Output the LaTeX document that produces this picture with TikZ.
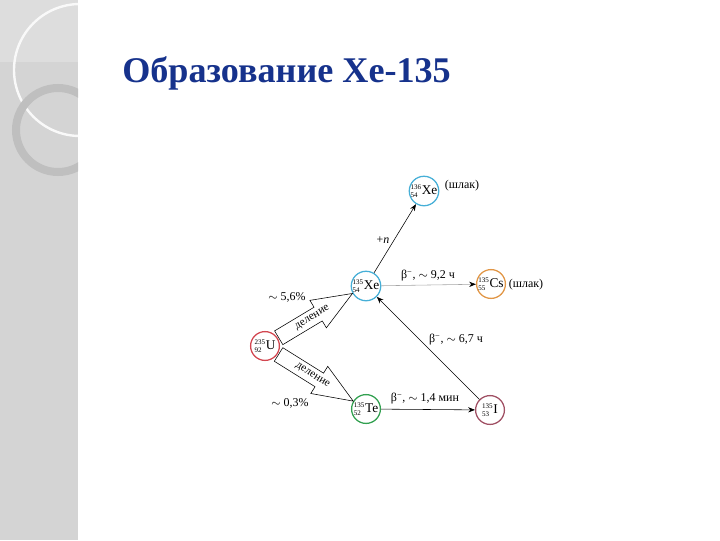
\documentclass[tikz,border=0pt]{standalone}
\usepackage{fontspec}
\setmainfont{Liberation Serif}
\usetikzlibrary{arrows.meta, positioning, calc}

\definecolor{titleblue}{RGB}{22,50,140}
\definecolor{stripgray}{RGB}{212,212,212}
\definecolor{xeblue}{RGB}{70,175,215}
\definecolor{csorange}{RGB}{225,150,70}
\definecolor{ured}{RGB}{210,70,80}
\definecolor{tegreen}{RGB}{50,160,80}
\definecolor{imaroon}{RGB}{160,80,100}

\newcommand{\nucl}[3]{$^{\mbox{\tiny #1}}_{\mbox{\tiny #2}}$\mbox{#3}}
% hollow fission arrow: #1 angle, #2 tip distance from the uranium centre
\newcommand{\fisarrow}[2]{%
  \begin{scope}[shift={(U)}, rotate=#1]
    \draw[thin, fill=white] (16,-8) -- (#2-40,-8) -- (#2-40,-16) -- (#2,0)
      -- (#2-40,16) -- (#2-40,8) -- (16,8) -- cycle;
  \end{scope}}

\begin{document}
\begin{tikzpicture}[
    x=0.025cm, y=-0.025cm,
    >={Stealth[length=1.7mm, width=1.3mm]},
    every node/.style={font=\fontsize{8.5}{10}\selectfont},
    nuclide/.style={circle, line width=0.9pt, minimum size=0.72cm, inner sep=0pt,
                    fill=white, font=\fontsize{9.5}{10}\selectfont},
    fistext/.style={inner sep=0pt, font=\fontsize{8}{9}\selectfont},
    decay/.style={->, thin},
  ]
  \useasboundingbox (0,0) rectangle (720,540);

  % Side strip
  \fill[stripgray] (0,0) rectangle (78,540);
  \fill[stripgray!80] (0,0) rectangle (78,62);
  \begin{scope}
    \clip (0,0) rectangle (78,540);
    \draw[white!85!stripgray, line width=0.06cm] (80,70) circle (66);
    \draw[gray!50, line width=0.2cm] (58,130) circle (42);
  \end{scope}

  % Title
  \node[anchor=base west, inner sep=0pt, text=titleblue,
        font=\fontsize{25.7}{30}\selectfont\bfseries] (title) at (122,82) {Образование Xe-135};

  % Nuclides
  \node[nuclide, draw=xeblue]   (XeB) at (424,191) {\nucl{136}{54}{Xe}};
  \node[nuclide, draw=xeblue]   (XeA) at (366,286) {\nucl{135}{54}{Xe}};
  \node[nuclide, draw=csorange] (Cs)  at (491,284) {\nucl{135}{55}{Cs}};
  \node[nuclide, draw=ured]     (U)   at (265,346) {\nucl{235}{92}{U}};
  \node[nuclide, draw=tegreen]  (Te)  at (366,409) {\nucl{135}{52}{Te}};
  \node[nuclide, draw=imaroon]  (I)   at (490,410) {\nucl{135}{53}{I}};

  % Slag labels
  \node (slagXe) at (462,186) {(шлак)};
  \node (slagCs) at (526,285) {(шлак)};

  % Fission
  \fisarrow{31}{102}
  \fisarrow{-32}{104}
  \node[fistext, rotate=31]  (fisXe) at ($(U)!0.47!(XeA)$) {деление};
  \node[fistext, rotate=-32] (fisTe) at ($(U)!0.47!(Te)$) {деление};
  \node (yieldXe) at (287,297) {$\sim$ 5,6\%};
  \node (yieldTe) at (290,403) {$\sim$ 0,3\%};

  % Decays and capture
  \draw[decay] (XeA) -- (XeB);
  \draw[decay, gray!70, -{Stealth[length=1.7mm, width=1.3mm, black]}] (XeA) -- (Cs);
  \draw[decay] (I) -- (XeA);
  \draw[decay] (Te) -- (I);

  \node (capN)   at (383,240) {+\textit{n}};
  \node (decCs)  at (428,276) {β\textsuperscript{−}, $\sim$ 9,2 ч};
  \node (decI)   at (456,340) {β\textsuperscript{−}, $\sim$ 6,7 ч};
  \node (decTe)  at (425,399) {β\textsuperscript{−}, $\sim$ 1,4 мин};
\end{tikzpicture}
\end{document}
